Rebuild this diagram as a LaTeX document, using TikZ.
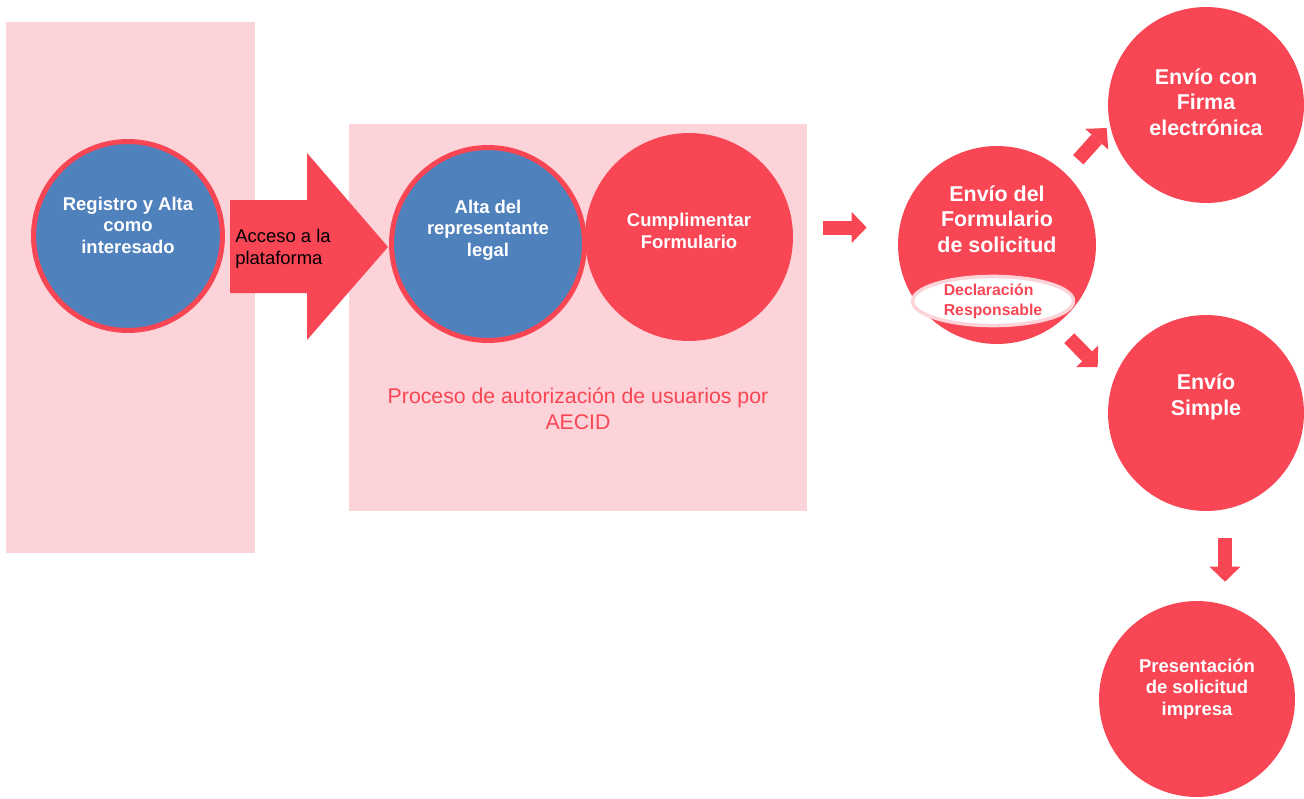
\documentclass[tikz,border=0pt]{standalone}
\usepackage{fontspec}
\setmainfont{Liberation Sans}
\usetikzlibrary{shapes.geometric}
\usetikzlibrary{arrows.meta}
\definecolor{aecidred}{HTML}{F94655}
\definecolor{aecidblue}{HTML}{4F81BD}
\definecolor{aecidpink}{HTML}{FCD3D8}
\newcommand{\ringw}{0.1cm}
\newcommand{\circfont}{\fontsize{10.5}{12.2}\selectfont\bfseries}
\newcommand{\circfontl}{\fontsize{12.2}{14.4}\selectfont\bfseries}
\newcommand{\declfont}{\fontsize{9}{11.3}\selectfont\bfseries}
\newcommand{\procfont}{\fontsize{12.1}{14.7}\selectfont}
\newcommand{\accfont}{\fontsize{10.5}{12.4}\selectfont}

\begin{document}
\begin{tikzpicture}[x=0.02cm,y=-0.02cm,
    bluecirc/.style={circle,fill=aecidblue,draw=aecidred,line width=\ringw},
    redcirc/.style={circle,fill=aecidred},
    wtext/.style={text=white,align=center,inner sep=0pt,font=\circfont},
    wtextl/.style={wtext,font=\circfontl},
    declbox/.style={ellipse,draw=aecidpink,line width=0.07cm,fill=white,
      minimum width=3.22cm,minimum height=0.98cm,inner sep=0pt,
      text=aecidred,align=left,font=\declfont},
    blockarrow/.style={draw=aecidred,line width=0.28cm,
      -{Triangle[width=0.62cm,length=0.3cm,line width=0pt]}}]
    \useasboundingbox (0,0) rectangle (1304,798);

    % background panels
    \fill[aecidpink] (6,22) rectangle (255,553);
    \fill[aecidpink] (349,124) rectangle (807,511);

    % access arrow
    \fill[aecidred] (230,200) -- (307,200) -- (307,153) -- (388,247)
      -- (307,340) -- (307,293) -- (230,293) -- cycle;
    \node[anchor=west,align=left,inner sep=0pt,font=\accfont] (acceso)
      at (235,249) {Acceso a la\\plataforma};

    % registration part
    \node[bluecirc,minimum size=3.78cm] (registro) at (128,236) {};
    \node[wtext] (registrotxt) at ([yshift=0.22cm]registro) {Registro y Alta\\como\\interesado};

    % authorisation part
    \node[redcirc,minimum size=4.16cm] (cumpl) at (689,237) {};
    \node[wtext] (cumpltxt) at ([yshift=0.12cm]cumpl) {Cumplimentar\\Formulario};
    \node[bluecirc,minimum size=3.86cm] (altarep) at (488,244) {};
    \node[wtext] (altareptxt) at ([yshift=0.28cm]altarep) {Alta del\\representante\\legal};
    \node[align=center,inner sep=0pt,text=aecidred,font=\procfont] (proceso)
      at (578,409) {Proceso de autorización de usuarios por\\AECID};

    % sending part
    \node[redcirc,minimum size=3.96cm] (envio) at (997,245) {};
    \node[wtextl] (enviotxt) at ([yshift=0.52cm]envio) {Envío del\\Formulario\\de solicitud};
    \node[declbox] (decl) at (993,301) {Declaración\\Responsable};
    \node[redcirc,minimum size=3.92cm] (firma) at (1206,105) {};
    \node[wtextl] (firmatxt) at ([yshift=0.06cm]firma) {Envío con\\Firma\\electrónica};
    \node[redcirc,minimum size=3.92cm] (simple) at (1206,413) {};
    \node[wtextl] (simpletxt) at ([yshift=0.32cm]simple) {Envío\\Simple};
    \node[redcirc,minimum size=3.92cm] (present) at (1197,699) {};
    \node[wtext] (presenttxt) at ([yshift=0.2cm]present) {Presentación\\de solicitud\\impresa};

    % connectors
    \draw[blockarrow] ([shift={(30,-9.5)}]cumpl.east) -- ([shift={(-31,-17.5)}]envio.west);
    \draw[blockarrow] ([shift={(11,-15)}]envio.45) -- ([shift={(-1,23)}]firma.west);
    \draw[blockarrow] ([shift={(2,23)}]envio.-45) -- ([shift={(-10,-46)}]simple.west);
    \draw[blockarrow] ([shift={(19,27)}]simple.south) -- ([shift={(28,-19)}]present.north);
\end{tikzpicture}
\end{document}
